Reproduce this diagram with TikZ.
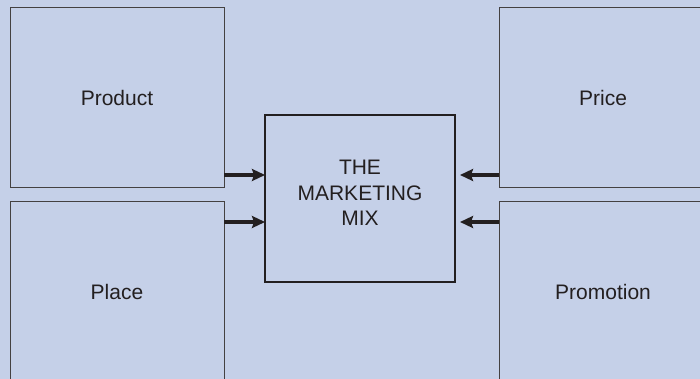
\documentclass[tikz,border=0pt]{standalone}
\usepackage{fontspec}
\setmainfont{Liberation Sans}
\usetikzlibrary{arrows.meta,positioning}
\definecolor{mixbg}{RGB}{197,208,232}
\definecolor{mixline}{RGB}{35,31,32}

\begin{document}
\begin{tikzpicture}[x=1pt,y=-1pt,font=\fontsize{21}{25.5}\selectfont,text=mixline,
  >={Stealth[length=13pt,width=12pt,inset=2pt]},
  pbox/.style={draw=mixline!85,line width=1pt,fill=mixbg,inner sep=0pt,outer sep=0pt,minimum height=180pt},
  mixbox/.style={draw=mixline,line width=2.3pt,fill=mixbg,inner sep=0pt,outer sep=0pt,minimum width=190pt,minimum height=167pt},
  flow/.style={->,draw=mixline,line width=4pt}]
\fill[mixbg] (0,0) rectangle (700,379);
\clip (0,0) rectangle (700,379);
% the four P's
\node[pbox,minimum width=214pt] (product) at (117,98) {Product};
\node[pbox,minimum width=214pt] (place) at (117,292) {Place};
\node[pbox,minimum width=208pt] (price) at (603,98) {Price};
\node[pbox,minimum width=208pt] (promotion) at (603,292) {Promotion};
% centre box
\node[mixbox] (mix) at (360,198.5) {};
\node[align=center] (mixtext) at (360,193) {THE\\MARKETING\\MIX};
% arrows into the mix
\coordinate (a1) at ([yshift=13pt]product.south east);
\coordinate (a2) at ([yshift=-20pt]place.north east);
\coordinate (b1) at ([yshift=13pt]price.south west);
\coordinate (b2) at ([yshift=-20pt]promotion.north west);
\draw[flow] (a1) -- (a1 -| mix.west);
\draw[flow] (a2) -- (a2 -| mix.west);
\draw[flow,shorten >=5pt] (b1) -- (b1 -| mix.east);
\draw[flow,shorten >=5pt] (b2) -- (b2 -| mix.east);
\end{tikzpicture}
\end{document}
